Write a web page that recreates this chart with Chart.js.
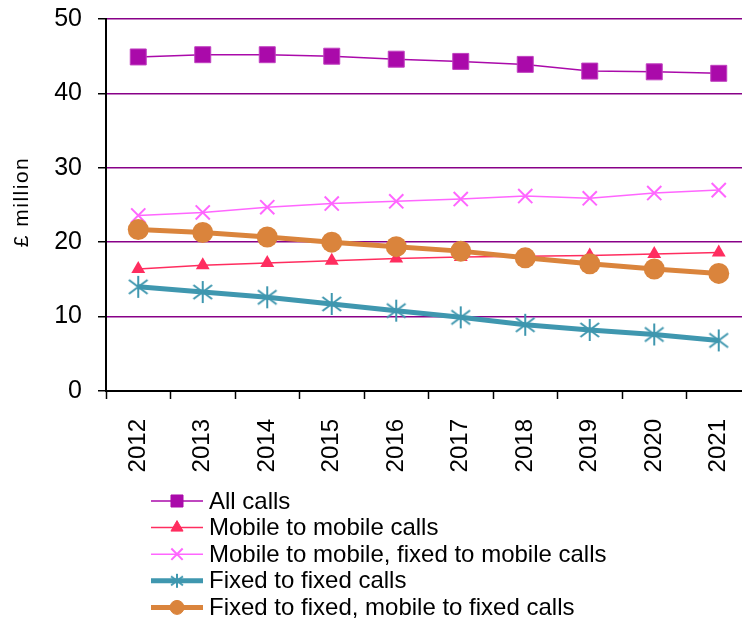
<!DOCTYPE html>
<html>
<head>
<meta charset="utf-8">
<script src="https://cdn.jsdelivr.net/npm/chart.js@4/dist/chart.umd.min.js"></script>
<style>
  html, body { margin: 0; padding: 0; background: #fff; overflow: hidden; }
  #wrap { position: relative; width: 768px; height: 620px; }
</style>
</head>
<body>
<div id="wrap"><canvas id="chart"></canvas></div>
<script>
// Call revenue by type, £ million
const years = ['2012', '2013', '2014', '2015', '2016', '2017', '2018', '2019', '2020', '2021'];
const allCalls = [44.9, 45.2, 45.2, 45.0, 44.6, 44.3, 43.9, 43.0, 42.9, 42.7];
const mobileToMobile = [16.4, 16.9, 17.2, 17.5, 17.8, 18.0, 18.1, 18.2, 18.4, 18.6];
const mobileAndFixedToMobile = [23.6, 24.0, 24.7, 25.2, 25.5, 25.8, 26.2, 25.9, 26.6, 27.0];
const fixedToFixed = [14.0, 13.3, 12.6, 11.7, 10.8, 9.9, 8.9, 8.2, 7.6, 6.8];
const fixedAndMobileToFixed = [21.7, 21.3, 20.7, 20.0, 19.4, 18.8, 17.9, 17.1, 16.4, 15.8];
const yTicks = [0, 10, 20, 30, 40, 50];
const yTitle = '£ million';

const FONT = '"Liberation Sans", Arial, sans-serif';
const PURPLE_GRID = '#880088';

// Six-spoke asterisk marker
function asterisk(size, color, lw) {
  const c = document.createElement('canvas');
  c.width = c.height = size;
  const g = c.getContext('2d');
  const h = size / 2, r = h - 1, d = r * 0.85;
  g.strokeStyle = color;
  g.lineWidth = lw;
  g.beginPath();
  g.moveTo(h, h - r); g.lineTo(h, h + r);
  g.moveTo(h - d, h - d * 0.75); g.lineTo(h + d, h + d * 0.75);
  g.moveTo(h - d, h + d * 0.75); g.lineTo(h + d, h - d * 0.75);
  g.stroke();
  return c;
}

const TEAL = '#3F97AF';
const starBig = asterisk(24, TEAL, 2);
const starSmall = asterisk(16, TEAL, 2);

const datasets = [
  { label: 'All calls', data: allCalls, borderColor: '#AA0AAA', backgroundColor: '#AA0AAA',
    borderWidth: 1.5, pointStyle: 'rect', pointRadius: 11.3, pointBorderWidth: 1,
    pointBorderColor: '#C040C0', order: 4, legendRadius: 8.5 },
  { label: 'Mobile to mobile calls', data: mobileToMobile, borderColor: '#FF2D5F', backgroundColor: '#FF2D5F',
    borderWidth: 1.5, pointStyle: 'triangle', pointRadius: 8, pointBorderWidth: 0, order: 3, legendRadius: 7 },
  { label: 'Mobile to mobile, fixed to mobile calls', data: mobileAndFixedToMobile, borderColor: '#FF66FF',
    backgroundColor: '#FF66FF', borderWidth: 1.5, pointStyle: 'crossRot', pointRadius: 10,
    pointBorderWidth: 2, order: 2, legendRadius: 8 },
  { label: 'Fixed to fixed calls', data: fixedToFixed, borderColor: TEAL, backgroundColor: TEAL,
    borderWidth: 5, pointStyle: starBig, legendStyle: starSmall, pointRadius: 12, order: 1 },
  { label: 'Fixed to fixed, mobile to fixed calls', data: fixedAndMobileToFixed, borderColor: '#DA843C',
    backgroundColor: '#DA843C', borderWidth: 5, pointStyle: 'circle', pointRadius: 10.5,
    pointBorderWidth: 0, order: 0, legendRadius: 7 }
];

// Legend with a line sample and its marker, drawn under the axis labels;
// the y-axis title is drawn here too, with a little letter spacing
const lineLegend = {
  id: 'lineLegend',
  afterDraw(chart) {
    const ctx = chart.ctx;
    ctx.save();
    chart.data.datasets.forEach((ds, i) => {
      const y = 501 + i * 26.6;
      ctx.strokeStyle = ds.borderColor;
      ctx.lineWidth = ds.borderWidth;
      ctx.beginPath();
      ctx.moveTo(151, y);
      ctx.lineTo(203, y);
      ctx.stroke();
      ctx.fillStyle = ds.backgroundColor;
      ctx.strokeStyle = ds.borderColor;
      ctx.lineWidth = ds.pointStyle === 'crossRot' ? 2 : 1;
      Chart.helpers.drawPoint(ctx, {
        pointStyle: ds.legendStyle || ds.pointStyle,
        radius: ds.legendRadius || 8,
        rotation: 0,
        borderWidth: ctx.lineWidth
      }, 177, y);
      ctx.fillStyle = '#000';
      ctx.font = '24px ' + FONT;
      ctx.textAlign = 'left';
      ctx.textBaseline = 'middle';
      ctx.fillText(ds.label, 209, y + 1);
    });

    const area = chart.chartArea;
    ctx.translate(22, (area.top + area.bottom) / 2 - 3);
    ctx.rotate(-Math.PI / 2);
    ctx.font = '21px ' + FONT;
    ctx.letterSpacing = '1.5px';
    ctx.fillStyle = '#000';
    ctx.textAlign = 'center';
    ctx.textBaseline = 'middle';
    ctx.fillText(yTitle, 0, 0);
    ctx.restore();
  }
};

new Chart(document.getElementById('chart'), {
  type: 'line',
  data: { labels: years, datasets },
  plugins: [lineLegend],
  options: {
    responsive: true,
    maintainAspectRatio: false,
    animation: false,
    layout: { padding: { top: 19, right: 1, bottom: 0, left: 0 } },
    plugins: { legend: { display: false }, tooltip: { enabled: false } },
    elements: { line: { tension: 0 } },
    scales: {
      x: {
        offset: true,
        grid: { offset: true, drawOnChartArea: false, drawTicks: true, tickLength: 8,
                tickColor: '#000', tickWidth: 1.5 },
        border: { display: true, color: '#000', width: 2 },
        ticks: { color: '#000', font: { family: FONT, size: 24 }, minRotation: 90, maxRotation: 90,
                 padding: 20, autoSkip: false },
        afterFit(scale) {
          scale.height = 229;
          scale.paddingLeft = 0;
          scale.paddingRight = 0;
        }
      },
      y: {
        min: 0, max: 50,
        afterBuildTicks(scale) { scale.ticks = yTicks.map(v => ({ value: v })); },
        grid: {
          color: c => (c.tick && c.tick.value === 0) ? 'rgba(0,0,0,0)' : PURPLE_GRID,
          lineWidth: 1.5, tickLength: 8, tickColor: '#000', tickWidth: 1.5
        },
        border: { display: true, color: '#000', width: 2 },
        ticks: { color: '#000', font: { family: FONT, size: 25 }, padding: 16 },
        afterFit(scale) {
          scale.width = 106;
          scale.paddingTop = 0;
          scale.paddingBottom = 0;
        }
      }
    }
  }
});
</script>
</body>
</html>
